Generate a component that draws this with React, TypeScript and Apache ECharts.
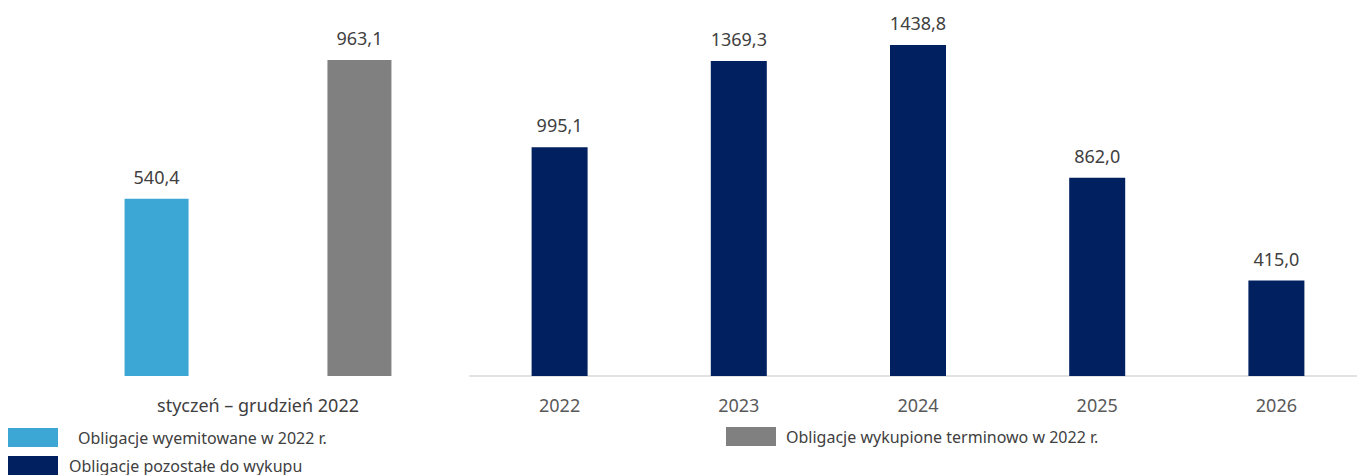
import React, { useEffect, useRef } from "react";
import * as echarts from "echarts";

const leftCategories = ["styczeń – grudzień 2022"];
const issuedValues = [540.4];
const redeemedValues = [963.1];
const rightCategories = ["2022", "2023", "2024", "2025", "2026"];
const remainingValues = [995.1, 1369.3, 1438.8, 862.0, 415.0];

const NAME_ISSUED = "Obligacje wyemitowane w 2022 r.";
const NAME_REDEEMED = "Obligacje wykupione terminowo w 2022 r.";
const NAME_REMAINING = "Obligacje pozostałe do wykupu";

const FONT = "'Noto Sans', sans-serif";
const fmt = (p: any) => Number(p.value).toFixed(1).replace(".", ",");

export default function App() {
  const ref = useRef<HTMLDivElement>(null);
  useEffect(() => {
    if (!ref.current) return;
    const chart = echarts.init(ref.current, undefined, { renderer: "svg" });
    const label = {
      show: true,
      position: "top" as const,
      distance: 13,
      formatter: fmt,
      color: "#404040",
      fontSize: 18,
      fontFamily: FONT,
    };
    const legendBase = {
      itemWidth: 50,
      itemHeight: 19,
      icon: "rect",
      padding: 0,
    };
    chart.setOption({
      animation: false,
      textStyle: { fontFamily: FONT },
      grid: [
        { left: 40, width: 436, top: 48, bottom: 99 },
        { left: 470, right: 14, top: 8, bottom: 99 },
      ],
      xAxis: [
        {
          type: "category",
          gridIndex: 0,
          data: leftCategories,
          axisLine: { show: false },
          axisTick: { show: false },
          axisLabel: { color: "#404040", fontSize: 18, margin: 20, fontFamily: FONT },
        },
        {
          type: "category",
          gridIndex: 1,
          data: rightCategories,
          axisLine: { show: true, lineStyle: { color: "#d9d9d9", width: 1.5 } },
          axisTick: { show: false },
          axisLabel: { color: "#595959", fontSize: 18, margin: 20, fontFamily: FONT },
        },
      ],
      yAxis: [
        { type: "value", gridIndex: 0, min: 0, max: 1000, show: false },
        { type: "value", gridIndex: 1, min: 0, max: 1600, show: false },
      ],
      legend: [
        {
          ...legendBase,
          data: [NAME_ISSUED],
          left: 8,
          top: 428,
          textStyle: { color: "#404040", fontSize: 16, fontFamily: FONT, padding: [0, 0, 0, 15] },
        },
        {
          ...legendBase,
          data: [NAME_REMAINING],
          left: 8,
          top: 456,
          textStyle: { color: "#404040", fontSize: 16, fontFamily: FONT, padding: [0, 0, 0, 6] },
        },
        {
          ...legendBase,
          data: [NAME_REDEEMED],
          left: 726,
          top: 427,
          textStyle: { color: "#404040", fontSize: 16, fontFamily: FONT, padding: [0, 0, 0, 5] },
        },
      ],
      series: [
        {
          name: NAME_ISSUED,
          type: "bar",
          xAxisIndex: 0,
          yAxisIndex: 0,
          data: issuedValues,
          barWidth: 64,
          barGap: "217%",
          itemStyle: { color: "#3CA7D5" },
          label,
        },
        {
          name: NAME_REDEEMED,
          type: "bar",
          xAxisIndex: 0,
          yAxisIndex: 0,
          data: redeemedValues,
          barWidth: 64,
          barGap: "217%",
          itemStyle: { color: "#808080" },
          label,
        },
        {
          name: NAME_REMAINING,
          type: "bar",
          xAxisIndex: 1,
          yAxisIndex: 1,
          data: remainingValues,
          barWidth: 56,
          itemStyle: { color: "#002060" },
          label,
        },
      ],
    });
    return () => chart.dispose();
  }, []);
  return (
    <div
      style={{ position: "fixed", left: 0, top: 0, width: 1357, height: 475, overflow: "hidden", background: "#fff" }}
    >
      <div ref={ref} style={{ width: 1380, height: 475 }} />
    </div>
  );
}
